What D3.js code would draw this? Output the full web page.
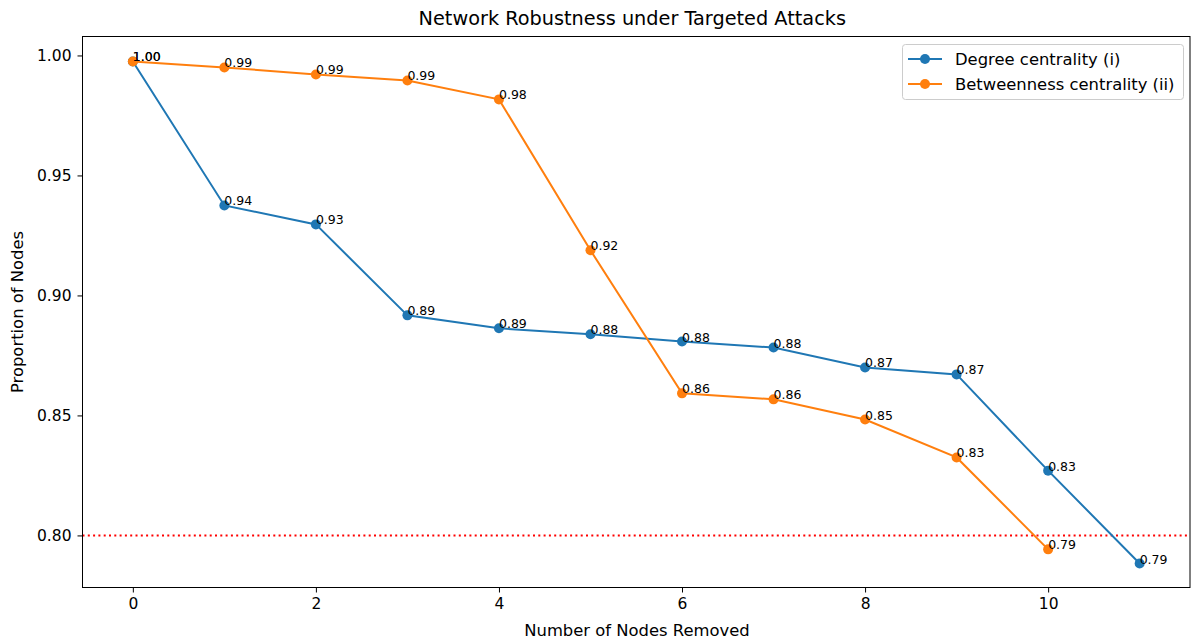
<!DOCTYPE html>
<html><head><meta charset="utf-8">
<script src="https://cdn.jsdelivr.net/npm/d3@7"></script>
<style>body{margin:0;background:#fff;} text{font-family:"DejaVu Sans",sans-serif;}</style>
</head><body><svg id="c" width="1191" height="644"></svg>
<script>
const nodesRemoved = [0,1,2,3,4,5,6,7,8,9,10,11];
const degreeValues = [0.9975,0.9375,0.9296,0.8917,0.8863,0.8838,0.8808,0.8783,0.8700,0.8671,0.8270,0.7883];
const betweenNodes = [0,1,2,3,4,5,6,7,8,9,10];
const betweenValues = [0.9975,0.9950,0.9921,0.9896,0.9817,0.9188,0.8592,0.8567,0.8483,0.8325,0.7942];
const xTicks = [0,2,4,6,8,10];
const yTicks = [0.80,0.85,0.90,0.95,1.00];
const threshold = 0.80;
const seriesNames = ["Degree centrality (i)","Betweenness centrality (ii)"];
const colors = ["#1f77b4","#ff7f0e"];

const svg = d3.select("#c");
const L=82.5, R=1190, T=36.5, B=587.5;
const x = d3.scaleLinear().domain([-0.55,11.55]).range([L,R]);
const y = d3.scaleLinear().domain([0.7783,1.0079]).range([B,T]);

svg.append("line").attr("x1",L).attr("x2",R).attr("y1",y(threshold)).attr("y2",y(threshold))
  .attr("stroke","red").attr("stroke-width",2).attr("stroke-dasharray","2,3.3");

const series = [
  {xs:nodesRemoved, ys:degreeValues, c:colors[0]},
  {xs:betweenNodes, ys:betweenValues, c:colors[1]}
];
const line = d3.line().x(d=>x(d[0])).y(d=>y(d[1]));
series.forEach(s=>{
  const pts = s.xs.map((v,i)=>[v,s.ys[i]]);
  svg.append("path").datum(pts).attr("d",line).attr("fill","none").attr("stroke",s.c).attr("stroke-width",2);
  svg.selectAll(null).data(pts).enter().append("circle").attr("cx",d=>x(d[0])).attr("cy",d=>y(d[1])).attr("r",5).attr("fill",s.c);
});
series.forEach(s=>{
  s.xs.forEach((v,i)=>{
    svg.append("text").attr("x",x(v)).attr("y",y(s.ys[i])).attr("font-size",12.5).attr("fill","#000")
      .text(s.ys[i].toFixed(2));
  });
});

// axes
const xa = svg.append("g").attr("transform",`translate(0,${B})`)
  .call(d3.axisBottom(x).tickValues(xTicks).tickFormat(d3.format("d")).tickSize(5).tickPadding(5));
const ya = svg.append("g").attr("transform",`translate(${L},0)`)
  .call(d3.axisLeft(y).tickValues(yTicks).tickFormat(d3.format(".2f")).tickSize(5).tickPadding(6));
[xa,ya].forEach(a=>{a.select(".domain").remove(); a.selectAll("text").attr("font-size",15.5).attr("fill","#000").style("font-family","DejaVu Sans"); a.selectAll("line").attr("stroke","#000");});
svg.append("rect").attr("x",L).attr("y",T).attr("width",R-L).attr("height",B-T).attr("fill","none").attr("stroke","#000").attr("stroke-width",1);

svg.append("text").attr("x",(L+R)/2-4).attr("y",25).attr("text-anchor","middle").attr("font-size",19.3).text("Network Robustness under Targeted Attacks");
svg.append("text").attr("x",637).attr("y",636).attr("text-anchor","middle").attr("font-size",16.4).text("Number of Nodes Removed");
svg.append("text").attr("transform",`translate(23,${(T+B)/2}) rotate(-90)`).attr("text-anchor","middle").attr("font-size",16.4).text("Proportion of Nodes");

// legend
const lg = svg.append("g");
lg.append("rect").attr("x",902.5).attr("y",44.5).attr("width",281).attr("height",55).attr("rx",3)
  .attr("fill","#fff").attr("fill-opacity",0.8).attr("stroke","#ccc");
seriesNames.forEach((n,i)=>{
  const yy = 59+i*25;
  lg.append("line").attr("x1",908).attr("x2",942).attr("y1",yy).attr("y2",yy).attr("stroke",colors[i]).attr("stroke-width",2);
  lg.append("circle").attr("cx",925).attr("cy",yy).attr("r",5).attr("fill",colors[i]);
  lg.append("text").attr("x",955).attr("y",yy+6).attr("font-size",16.4).text(n);
});
</script></body></html>
